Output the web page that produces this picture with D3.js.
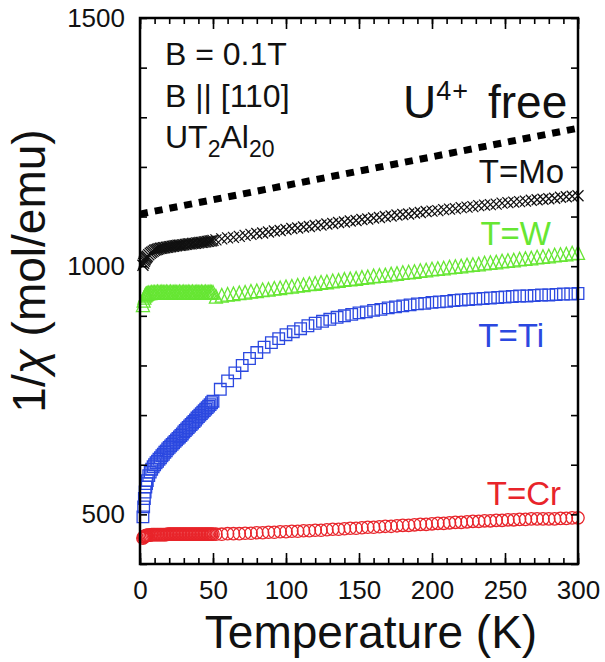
<html>
<head>
<script src="https://cdnjs.cloudflare.com/ajax/libs/d3/7.8.5/d3.min.js"></script>
<style>
  body { margin: 0; background: #fff; }
  text { font-family: "Liberation Sans", Arial, sans-serif; }
</style>
</head>
<body>
<svg id="chart"></svg>
<script>

    // temperatures (K): dense sweep below 50 K, sparser above
    var tLow = [2, 2.5, 3, 3.5, 4, 4.5, 5, 6, 7, 8, 9, 10, 11, 12, 13, 14, 15, 16, 17, 18, 19,
        20, 21, 22, 23, 24, 25, 26, 27, 28, 29, 30, 31, 32, 33, 34, 35, 36, 37, 38, 39, 40,
        41, 42, 43, 44, 45, 46, 47, 48, 49, 50];
    var tHigh = [52, 56, 60, 64, 68, 72, 76, 80, 84, 88, 92, 96, 100, 104, 108, 112, 116, 120,
        124, 128, 132, 136, 140, 144, 148, 152, 156, 160, 164, 168, 172, 176, 180, 184, 188,
        192, 196, 200, 204, 208, 212, 216, 220, 224, 228, 232, 236, 240, 244, 248, 252, 256,
        260, 264, 268, 272, 276, 280, 284, 288, 292, 296, 300];
    var tHighTi = [55, 60, 65, 70, 75, 80, 85, 90, 95, 100, 105, 110, 115, 120, 125, 130, 135,
        140, 145, 150, 155, 160, 165, 170, 175, 180, 185, 190, 195, 200, 205, 210, 215, 220,
        225, 230, 235, 240, 245, 250, 255, 260, 265, 270, 275, 280, 285, 290, 295, 300];

    // 1/chi (mol/emu)
    var moLow = [1002, 1006, 1010, 1013, 1016, 1018, 1020,
        1023, 1026, 1028, 1030, 1032, 1033, 1034, 1035, 1036, 1036,
        1037, 1037, 1038, 1038, 1039, 1039, 1040, 1040, 1041, 1041,
        1042, 1042, 1042, 1043, 1043, 1044, 1044, 1045, 1045, 1045,
        1046, 1046, 1046, 1047, 1047, 1048, 1048, 1048, 1049, 1049,
        1050, 1050, 1051, 1051, 1052];
    var moHigh = [1053, 1055, 1057, 1058, 1060, 1062, 1064, 1066, 1067, 1069, 1071, 1072, 1074,
        1076, 1077, 1079, 1080, 1082, 1083, 1085, 1086, 1088, 1089, 1091, 1092, 1094, 1095,
        1097, 1098, 1100, 1101, 1103, 1104, 1105, 1107, 1108, 1110, 1111, 1112, 1114, 1115,
        1116, 1118, 1119, 1120, 1122, 1123, 1124, 1125, 1127, 1128, 1129, 1130, 1131, 1133,
        1134, 1135, 1136, 1137, 1139, 1140, 1141, 1142];

    var wLow = [921, 930, 936, 940, 942, 943, 944,
        945, 945, 946, 946, 946, 946, 947, 946, 946, 947,
        946, 946, 947, 946, 946, 947, 946, 946, 947, 946,
        946, 947, 946, 946, 947, 946, 946, 947, 946, 946,
        947, 946, 946, 947, 946, 946, 947, 946, 946, 947,
        946, 946, 947, 946, 946];
    var wHigh = [938, 940, 942, 943, 945, 946, 948, 949, 951, 952, 954, 955, 957, 958, 960, 961,
        963, 964, 966, 967, 969, 970, 972, 973, 974, 976, 977, 979, 980, 981, 983, 984, 986,
        987, 988, 990, 991, 993, 994, 995, 997, 998, 999, 1001, 1002, 1003, 1005, 1006, 1007,
        1009, 1010, 1011, 1013, 1014, 1015, 1017, 1018, 1019, 1021, 1022, 1023, 1025, 1026];

    var tiLow = [495, 515, 532, 545, 555, 562, 568,
        578, 585, 591, 596, 600, 604, 607, 611, 614, 618,
        621, 625, 628, 632, 635, 638, 641, 644, 647, 650,
        653, 656, 659, 662, 666, 669, 672, 675, 678, 681,
        684, 687, 690, 694, 697, 700, 703, 706, 709, 712,
        715, 718, 721, 725, 728];
    var tiHigh = [752, 769, 785, 800, 814, 826, 837, 846, 854, 862,
        868, 874, 880, 885, 889, 893, 897, 900, 903, 906,
        908, 911, 913, 916, 918, 920, 922, 924, 925, 927,
        928, 929, 931, 932, 933, 934, 935, 936, 937, 938,
        939, 940, 940, 941, 942, 942, 943, 944, 944, 945];

    var crLow = [452, 454, 455, 456, 457, 457, 458,
        458, 458, 459, 459, 459, 459, 459, 459, 459, 459,
        459, 459, 459, 460, 460, 460, 460, 460, 460, 460,
        460, 460, 460, 460, 460, 460, 460, 460, 460, 460,
        460, 460, 460, 460, 460, 460, 460, 460, 460, 460,
        460, 460, 460, 460, 460];
    var crHigh = [460, 460, 461, 461, 461, 462, 462, 463, 463, 464, 464, 465, 465, 466, 466, 467,
        467, 468, 468, 469, 470, 470, 471, 472, 472, 473, 474, 474, 475, 476, 476, 477, 478,
        478, 479, 480, 480, 481, 482, 482, 483, 484, 484, 485, 486, 486, 487, 487, 488, 488,
        489, 489, 490, 490, 491, 491, 491, 491, 491, 492, 492, 493, 493];

    // U4+ free-ion line end points
    var freeT = [0, 300];
    var freeVals = [1105, 1278];

    var xTicks = [0, 50, 100, 150, 200, 250, 300];
    var yTicks = [500, 1000, 1500];

    var width = 605,
        height = 662;

    var svg = d3.select("#chart")
        .attr("width", width)
        .attr("height", height);

    var x = d3.scaleLinear().domain([0, 300]).range([140, 578]);
    var y = d3.scaleLinear().domain([400, 1500]).range([564, 18]);

    function pts(ts, vals) {
        return ts.map(function(t, i) { return [t, vals[i]]; });
    }

    // marker shapes, "size" here is the half width in px
    var crossSym = {draw: function(c, r) {
        c.moveTo(-r, -r); c.lineTo(r, r); c.moveTo(r, -r); c.lineTo(-r, r);
    }};
    var squareSym = {draw: function(c, r) {
        c.moveTo(-r, -r); c.lineTo(r, -r); c.lineTo(r, r); c.lineTo(-r, r); c.closePath();
    }};
    var triSym = {draw: function(c, r) {
        c.moveTo(0, -r * 1.15); c.lineTo(r, r * 0.95); c.lineTo(-r, r * 0.95); c.closePath();
    }};
    var circleSym = {draw: function(c, r) {
        c.moveTo(r, 0); c.arc(0, 0, r, 0, 2 * Math.PI);
    }};

    var series = [
        {name: "Cr", data: pts(tLow.concat(tHigh), crLow.concat(crHigh)), color: "#e8242a", shape: circleSym, size: 6.2},
        {name: "Ti", data: pts(tLow.concat(tHighTi), tiLow.concat(tiHigh)), color: "#2b48e0", shape: squareSym, size: 5.8},
        {name: "W", data: pts(tLow.concat(tHigh), wLow.concat(wHigh)), color: "#66e633", shape: triSym, size: 6.5},
        {name: "Mo", data: pts(tLow.concat(tHigh), moLow.concat(moHigh)), color: "#111", shape: crossSym, size: 5.5}
    ];

    series.forEach(function(s) {
        var sym = d3.symbol().type(s.shape).size(s.size);
        svg.append("g")
            .attr("class", "series-" + s.name)
            .selectAll("path")
            .data(s.data)
            .enter().append("path")
            .attr("d", sym)
            .attr("transform", function(d) { return "translate(" + x(d[0]) + "," + y(d[1]) + ")"; })
            .attr("fill", "none")
            .attr("stroke", s.color)
            .attr("stroke-width", 1.3);
    });

    // free ion line
    svg.append("path")
        .datum(pts(freeT, freeVals))
        .attr("d", d3.line().x(function(d) { return x(d[0]); }).y(function(d) { return y(d[1]); }))
        .attr("fill", "none")
        .attr("stroke", "#000")
        .attr("stroke-width", 7)
        .attr("stroke-dasharray", "8,7");

    // axes: ticks pointing inward on all four sides
    function addAxis(axis, tf) {
        var g = svg.append("g").attr("transform", tf).call(axis);
        g.select(".domain").remove();
        g.selectAll("line").attr("stroke", "#000").attr("stroke-width", 1.6);
        g.selectAll("text").attr("font-size", 26).attr("fill", "#111")
            .style("font-family", "'Liberation Sans', Arial, sans-serif");
        return g;
    }

    var minorX = d3.range(0, 301, 10), minorY = d3.range(400, 1501, 100);

    addAxis(d3.axisBottom(x).tickValues(minorX).tickSize(-6).tickFormat(""), "translate(0,564)");
    addAxis(d3.axisBottom(x).tickValues(xTicks).tickSize(-11).tickPadding(17), "translate(0,564)");
    addAxis(d3.axisTop(x).tickValues(minorX).tickSize(-6).tickFormat(""), "translate(0,18)");
    addAxis(d3.axisTop(x).tickValues(xTicks).tickSize(-11).tickFormat(""), "translate(0,18)");

    addAxis(d3.axisLeft(y).tickValues(minorY).tickSize(-7).tickPadding(15), "translate(140,0)")
        .selectAll("text").text(function(d) { return yTicks.indexOf(d) >= 0 ? d : ""; });
    addAxis(d3.axisRight(y).tickValues(minorY).tickSize(-7).tickFormat(""), "translate(578,0)");

    svg.append("rect")
        .attr("x", 140).attr("y", 18)
        .attr("width", 438).attr("height", 546)
        .attr("fill", "none")
        .attr("stroke", "#000")
        .attr("stroke-width", 2.5);

    // axis titles
    svg.append("text")
        .attr("x", 371).attr("y", 648)
        .attr("text-anchor", "middle")
        .attr("font-size", 46)
        .attr("fill", "#111")
        .text("Temperature (K)");

    var yt = svg.append("text")
        .attr("transform", "translate(45,271) rotate(-90)")
        .attr("text-anchor", "middle")
        .attr("font-size", 46)
        .attr("fill", "#111");
    yt.append("tspan").text("1/");
    yt.append("tspan").attr("font-style", "italic").text("\u03c7");
    yt.append("tspan").text(" (mol/emu)");

    // annotations
    var info = svg.append("g").attr("font-size", 32).attr("fill", "#111");
    info.append("text").attr("x", 165).attr("y", 65).text("B = 0.1T");
    info.append("text").attr("x", 165).attr("y", 107).text("B || [110]");
    var ut = info.append("text").attr("x", 165).attr("y", 148);
    ut.append("tspan").text("UT");
    ut.append("tspan").attr("font-size", 23).attr("dy", 9).text("2");
    ut.append("tspan").attr("dy", -9).text("Al");
    ut.append("tspan").attr("font-size", 23).attr("dy", 9).text("20");

    var u4 = svg.append("text").attr("x", 403).attr("y", 118)
        .attr("font-size", 46).attr("fill", "#111");
    u4.append("tspan").text("U");
    u4.append("tspan").attr("font-size", 27).attr("dy", -18).attr("letter-spacing", 1).text("4+");
    u4.append("tspan").attr("x", 488).attr("dy", 18).text("free");

    var labels = [
        {text: "T=Mo", x: 564, y: 183, color: "#111"},
        {text: "T=W", x: 551, y: 245, color: "#66e633"},
        {text: "T=Ti", x: 544, y: 347, color: "#2b48e0"},
        {text: "T=Cr", x: 561, y: 505, color: "#e8242a"}
    ];
    svg.append("g").selectAll("text")
        .data(labels)
        .enter().append("text")
        .attr("x", function(d) { return d.x; })
        .attr("y", function(d) { return d.y; })
        .attr("text-anchor", "end")
        .attr("font-size", 33)
        .attr("fill", function(d) { return d.color; })
        .text(function(d) { return d.text; });

</script>
</body>
</html>
